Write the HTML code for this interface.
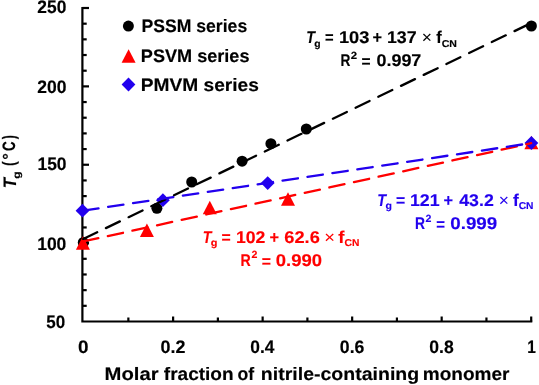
<!DOCTYPE html>
<html><head><meta charset="utf-8"><style>
html,body{margin:0;padding:0;background:#fff;width:539px;height:385px;overflow:hidden}
svg{display:block;will-change:transform;filter:blur(0.4px)}
text{font-family:"Liberation Sans",sans-serif;font-kerning:none;letter-spacing:0;text-rendering:geometricPrecision}
</style></head><body>
<svg width="539" height="385" viewBox="0 0 539 385">
<rect width="539" height="385" fill="#fff"/>
<path d="M82.4 8.0 V321.5 H531.2" stroke="#000" stroke-width="2.2" fill="none" stroke-linejoin="miter" stroke-linecap="square"/>
<line x1="82.4" y1="305.82" x2="86.70" y2="305.82" stroke="#000" stroke-width="2.2" stroke-linecap="butt"/>
<line x1="82.4" y1="290.15" x2="86.70" y2="290.15" stroke="#000" stroke-width="2.2" stroke-linecap="butt"/>
<line x1="82.4" y1="274.48" x2="86.70" y2="274.48" stroke="#000" stroke-width="2.2" stroke-linecap="butt"/>
<line x1="82.4" y1="258.80" x2="86.70" y2="258.80" stroke="#000" stroke-width="2.2" stroke-linecap="butt"/>
<line x1="82.4" y1="243.12" x2="89.00" y2="243.12" stroke="#000" stroke-width="2.2" stroke-linecap="butt"/>
<line x1="82.4" y1="227.45" x2="86.70" y2="227.45" stroke="#000" stroke-width="2.2" stroke-linecap="butt"/>
<line x1="82.4" y1="211.78" x2="86.70" y2="211.78" stroke="#000" stroke-width="2.2" stroke-linecap="butt"/>
<line x1="82.4" y1="196.10" x2="86.70" y2="196.10" stroke="#000" stroke-width="2.2" stroke-linecap="butt"/>
<line x1="82.4" y1="180.43" x2="86.70" y2="180.43" stroke="#000" stroke-width="2.2" stroke-linecap="butt"/>
<line x1="82.4" y1="164.75" x2="89.00" y2="164.75" stroke="#000" stroke-width="2.2" stroke-linecap="butt"/>
<line x1="82.4" y1="149.07" x2="86.70" y2="149.07" stroke="#000" stroke-width="2.2" stroke-linecap="butt"/>
<line x1="82.4" y1="133.40" x2="86.70" y2="133.40" stroke="#000" stroke-width="2.2" stroke-linecap="butt"/>
<line x1="82.4" y1="117.72" x2="86.70" y2="117.72" stroke="#000" stroke-width="2.2" stroke-linecap="butt"/>
<line x1="82.4" y1="102.05" x2="86.70" y2="102.05" stroke="#000" stroke-width="2.2" stroke-linecap="butt"/>
<line x1="82.4" y1="86.38" x2="89.00" y2="86.38" stroke="#000" stroke-width="2.2" stroke-linecap="butt"/>
<line x1="82.4" y1="70.70" x2="86.70" y2="70.70" stroke="#000" stroke-width="2.2" stroke-linecap="butt"/>
<line x1="82.4" y1="55.02" x2="86.70" y2="55.02" stroke="#000" stroke-width="2.2" stroke-linecap="butt"/>
<line x1="82.4" y1="39.35" x2="86.70" y2="39.35" stroke="#000" stroke-width="2.2" stroke-linecap="butt"/>
<line x1="82.4" y1="23.68" x2="86.70" y2="23.68" stroke="#000" stroke-width="2.2" stroke-linecap="butt"/>
<line x1="82.4" y1="8.00" x2="89.00" y2="8.00" stroke="#000" stroke-width="2.2" stroke-linecap="butt"/>
<line x1="128.36" y1="321.5" x2="128.36" y2="317.50" stroke="#000" stroke-width="2.2" stroke-linecap="butt"/>
<line x1="173.12" y1="321.5" x2="173.12" y2="316.50" stroke="#000" stroke-width="2.2" stroke-linecap="butt"/>
<line x1="217.88" y1="321.5" x2="217.88" y2="317.50" stroke="#000" stroke-width="2.2" stroke-linecap="butt"/>
<line x1="262.64" y1="321.5" x2="262.64" y2="316.50" stroke="#000" stroke-width="2.2" stroke-linecap="butt"/>
<line x1="307.40" y1="321.5" x2="307.40" y2="317.50" stroke="#000" stroke-width="2.2" stroke-linecap="butt"/>
<line x1="352.16" y1="321.5" x2="352.16" y2="316.50" stroke="#000" stroke-width="2.2" stroke-linecap="butt"/>
<line x1="396.92" y1="321.5" x2="396.92" y2="317.50" stroke="#000" stroke-width="2.2" stroke-linecap="butt"/>
<line x1="441.68" y1="321.5" x2="441.68" y2="316.50" stroke="#000" stroke-width="2.2" stroke-linecap="butt"/>
<line x1="486.44" y1="321.5" x2="486.44" y2="317.50" stroke="#000" stroke-width="2.2" stroke-linecap="butt"/>
<line x1="531.20" y1="321.5" x2="531.20" y2="316.50" stroke="#000" stroke-width="2.2" stroke-linecap="butt"/>
<circle cx="83.3" cy="242.5" r="5.5" fill="#000"/>
<circle cx="156.9" cy="208.3" r="5.5" fill="#000"/>
<circle cx="191.7" cy="182" r="5.5" fill="#000"/>
<circle cx="242.1" cy="161.2" r="5.5" fill="#000"/>
<circle cx="270.9" cy="143.7" r="5.5" fill="#000"/>
<circle cx="306.3" cy="129" r="5.5" fill="#000"/>
<circle cx="531.4" cy="26" r="5.5" fill="#000"/>
<path d="M75.90 249.65 L82.90 236.15 L89.90 249.65Z" fill="#ff0000" stroke="#ff0000" stroke-width="0" stroke-linejoin="round"/>
<path d="M139.90 236.95 L146.90 223.45 L153.90 236.95Z" fill="#ff0000" stroke="#ff0000" stroke-width="0" stroke-linejoin="round"/>
<path d="M202.80 214.15 L209.80 200.65 L216.80 214.15Z" fill="#ff0000" stroke="#ff0000" stroke-width="0" stroke-linejoin="round"/>
<path d="M281.00 205.85 L288.00 192.35 L295.00 205.85Z" fill="#ff0000" stroke="#ff0000" stroke-width="0" stroke-linejoin="round"/>
<path d="M524.40 149.35 L531.40 135.85 L538.40 149.35Z" fill="#ff0000" stroke="#ff0000" stroke-width="0" stroke-linejoin="round"/>
<path d="M75.60 210.70 L82.50 203.80 L89.40 210.70 L82.50 217.60Z" fill="#2200ee" stroke="#2200ee" stroke-width="0" stroke-linejoin="round"/>
<path d="M156.00 200.20 L162.90 193.30 L169.80 200.20 L162.90 207.10Z" fill="#2200ee" stroke="#2200ee" stroke-width="0" stroke-linejoin="round"/>
<path d="M260.80 183.10 L267.70 176.20 L274.60 183.10 L267.70 190.00Z" fill="#2200ee" stroke="#2200ee" stroke-width="0" stroke-linejoin="round"/>
<path d="M524.50 143.00 L531.40 136.10 L538.30 143.00 L531.40 149.90Z" fill="#2200ee" stroke="#2200ee" stroke-width="0" stroke-linejoin="round"/>
<line x1="83.2" y1="239.05" x2="531.2" y2="23.07" stroke="#000" stroke-width="2.3" stroke-dasharray="15.5 9.7" stroke-linecap="round"/>
<line x1="83.2" y1="241.48" x2="531.2" y2="143.19" stroke="#ff0000" stroke-width="2.3" stroke-dasharray="15.5 9.7" stroke-linecap="round"/>
<line x1="83.2" y1="210.61" x2="531.2" y2="143.14" stroke="#2200ee" stroke-width="2.3" stroke-dasharray="15.5 9.7" stroke-linecap="round"/>
<circle cx="128.4" cy="26.1" r="5.5" fill="#000"/>
<path d="M121.60 62.75 L128.60 49.25 L135.60 62.75Z" fill="#ff0000" stroke="#ff0000" stroke-width="0" stroke-linejoin="round"/>
<path d="M121.60 84.50 L128.50 77.60 L135.40 84.50 L128.50 91.40Z" fill="#2200ee" stroke="#2200ee" stroke-width="0" stroke-linejoin="round"/>
<text x="37.35" y="13.40" font-size="18" font-weight="bold" font-style="normal" fill="#000" stroke="#000" stroke-width="0.15" textLength="29.02" lengthAdjust="spacingAndGlyphs">250</text>
<text x="37.34" y="92.70" font-size="18" font-weight="bold" font-style="normal" fill="#000" stroke="#000" stroke-width="0.15" textLength="29.23" lengthAdjust="spacingAndGlyphs">200</text>
<text x="37.45" y="170.30" font-size="18" font-weight="bold" font-style="normal" fill="#000" stroke="#000" stroke-width="0.15" textLength="29.11" lengthAdjust="spacingAndGlyphs">150</text>
<text x="37.15" y="249.80" font-size="18" font-weight="bold" font-style="normal" fill="#000" stroke="#000" stroke-width="0.15" textLength="29.22" lengthAdjust="spacingAndGlyphs">100</text>
<text x="46.33" y="327.80" font-size="18" font-weight="bold" font-style="normal" fill="#000" stroke="#000" stroke-width="0.15" textLength="18.92" lengthAdjust="spacingAndGlyphs">50</text>
<text x="78.00" y="352.50" font-size="18" font-weight="bold" font-style="normal" fill="#000" stroke="#000" stroke-width="0.15" textLength="10.52" lengthAdjust="spacingAndGlyphs">0</text>
<text x="160.54" y="352.70" font-size="18" font-weight="bold" font-style="normal" fill="#000" stroke="#000" stroke-width="0.15" textLength="24.93" lengthAdjust="spacingAndGlyphs">0.2</text>
<text x="250.36" y="352.70" font-size="18" font-weight="bold" font-style="normal" fill="#000" stroke="#000" stroke-width="0.15" textLength="24.18" lengthAdjust="spacingAndGlyphs">0.4</text>
<text x="339.85" y="352.70" font-size="18" font-weight="bold" font-style="normal" fill="#000" stroke="#000" stroke-width="0.15" textLength="24.54" lengthAdjust="spacingAndGlyphs">0.6</text>
<text x="429.35" y="352.70" font-size="18" font-weight="bold" font-style="normal" fill="#000" stroke="#000" stroke-width="0.15" textLength="24.44" lengthAdjust="spacingAndGlyphs">0.8</text>
<text x="527.18" y="352.50" font-size="18" font-weight="bold" font-style="normal" fill="#000" stroke="#000" stroke-width="0.15" textLength="8.61" lengthAdjust="spacingAndGlyphs">1</text>
<text x="104.60" y="379.50" font-size="18" font-weight="bold" font-style="normal" fill="#000" stroke="#000" stroke-width="0.15" textLength="53.96" lengthAdjust="spacingAndGlyphs">Molar</text>
<text x="163.82" y="379.50" font-size="18" font-weight="bold" font-style="normal" fill="#000" stroke="#000" stroke-width="0.15" textLength="69.81" lengthAdjust="spacingAndGlyphs">fraction</text>
<text x="237.46" y="379.50" font-size="18" font-weight="bold" font-style="normal" fill="#000" stroke="#000" stroke-width="0.15" textLength="16.65" lengthAdjust="spacingAndGlyphs">of</text>
<text x="260.86" y="379.50" font-size="18" font-weight="bold" font-style="normal" fill="#000" stroke="#000" stroke-width="0.15" textLength="158.29" lengthAdjust="spacingAndGlyphs">nitrile-containing</text>
<text x="422.80" y="379.50" font-size="18" font-weight="bold" font-style="normal" fill="#000" stroke="#000" stroke-width="0.15" textLength="86.64" lengthAdjust="spacingAndGlyphs">monomer</text>
<text x="141.47" y="32.20" font-size="18" font-weight="bold" font-style="normal" fill="#000" stroke="#000" stroke-width="0.15" textLength="105.70" lengthAdjust="spacingAndGlyphs">PSSM series</text>
<text x="140.84" y="61.90" font-size="18" font-weight="bold" font-style="normal" fill="#000" stroke="#000" stroke-width="0.15" textLength="108.65" lengthAdjust="spacingAndGlyphs">PSVM series</text>
<text x="140.77" y="91.10" font-size="18" font-weight="bold" font-style="normal" fill="#000" stroke="#000" stroke-width="0.15" textLength="118.17" lengthAdjust="spacingAndGlyphs">PMVM series</text>
<text x="306.14" y="42.50" font-size="17" font-weight="bold" font-style="italic" fill="#000" stroke="#000" stroke-width="0.15" textLength="8.71" lengthAdjust="spacingAndGlyphs">T</text>
<text x="314.23" y="47.00" font-size="10" font-weight="bold" font-style="normal" fill="#000" stroke="#000" stroke-width="0.15" textLength="6.32" lengthAdjust="spacingAndGlyphs">g</text>
<text x="324.94" y="42.98" font-size="17" font-weight="bold" font-style="normal" fill="#000" stroke="#000" stroke-width="0.15" textLength="8.62" lengthAdjust="spacingAndGlyphs">=</text>
<text x="338.90" y="42.50" font-size="17" font-weight="bold" font-style="normal" fill="#000" stroke="#000" stroke-width="0.15" textLength="30.51" lengthAdjust="spacingAndGlyphs">103</text>
<text x="372.56" y="42.50" font-size="17" font-weight="bold" font-style="normal" fill="#000" stroke="#000" stroke-width="0.15" textLength="9.55" lengthAdjust="spacingAndGlyphs">+</text>
<text x="386.93" y="42.50" font-size="17" font-weight="bold" font-style="normal" fill="#000" stroke="#000" stroke-width="0.15" textLength="29.70" lengthAdjust="spacingAndGlyphs">137</text>
<text x="421.84" y="42.96" font-size="17" font-weight="normal" font-style="normal" fill="#000" stroke="#000" stroke-width="0" textLength="10.22" lengthAdjust="spacingAndGlyphs">×</text>
<text x="436.37" y="42.50" font-size="17" font-weight="bold" font-style="normal" fill="#000" stroke="#000" stroke-width="0.15" textLength="5.45" lengthAdjust="spacingAndGlyphs">f</text>
<text x="441.72" y="47.00" font-size="10" font-weight="bold" font-style="normal" fill="#000" stroke="#000" stroke-width="0.15" textLength="15.24" lengthAdjust="spacingAndGlyphs">CN</text>
<text x="377.33" y="205.50" font-size="17" font-weight="bold" font-style="italic" fill="#2200ee" stroke="#2200ee" stroke-width="0.15" textLength="8.81" lengthAdjust="spacingAndGlyphs">T</text>
<text x="385.42" y="209.00" font-size="10" font-weight="bold" font-style="normal" fill="#2200ee" stroke="#2200ee" stroke-width="0.15" textLength="6.44" lengthAdjust="spacingAndGlyphs">g</text>
<text x="396.10" y="205.98" font-size="17" font-weight="bold" font-style="normal" fill="#2200ee" stroke="#2200ee" stroke-width="0.15" textLength="9.20" lengthAdjust="spacingAndGlyphs">=</text>
<text x="409.93" y="205.50" font-size="17" font-weight="bold" font-style="normal" fill="#2200ee" stroke="#2200ee" stroke-width="0.15" textLength="29.72" lengthAdjust="spacingAndGlyphs">121</text>
<text x="443.56" y="205.50" font-size="17" font-weight="bold" font-style="normal" fill="#2200ee" stroke="#2200ee" stroke-width="0.15" textLength="9.55" lengthAdjust="spacingAndGlyphs">+</text>
<text x="459.28" y="205.50" font-size="17" font-weight="bold" font-style="normal" fill="#2200ee" stroke="#2200ee" stroke-width="0.15" textLength="34.48" lengthAdjust="spacingAndGlyphs">43.2</text>
<text x="498.84" y="205.96" font-size="17" font-weight="normal" font-style="normal" fill="#2200ee" stroke="#2200ee" stroke-width="0" textLength="10.22" lengthAdjust="spacingAndGlyphs">×</text>
<text x="513.05" y="205.50" font-size="17" font-weight="bold" font-style="normal" fill="#2200ee" stroke="#2200ee" stroke-width="0.15" textLength="5.76" lengthAdjust="spacingAndGlyphs">f</text>
<text x="518.73" y="209.00" font-size="10" font-weight="bold" font-style="normal" fill="#2200ee" stroke="#2200ee" stroke-width="0.15" textLength="14.81" lengthAdjust="spacingAndGlyphs">CN</text>
<text x="202.84" y="242.50" font-size="17" font-weight="bold" font-style="italic" fill="#ff0000" stroke="#ff0000" stroke-width="0.15" textLength="8.71" lengthAdjust="spacingAndGlyphs">T</text>
<text x="210.80" y="246.00" font-size="10" font-weight="bold" font-style="normal" fill="#ff0000" stroke="#ff0000" stroke-width="0.15" textLength="6.68" lengthAdjust="spacingAndGlyphs">g</text>
<text x="221.50" y="242.98" font-size="17" font-weight="bold" font-style="normal" fill="#ff0000" stroke="#ff0000" stroke-width="0.15" textLength="9.20" lengthAdjust="spacingAndGlyphs">=</text>
<text x="235.94" y="242.50" font-size="17" font-weight="bold" font-style="normal" fill="#ff0000" stroke="#ff0000" stroke-width="0.15" textLength="29.42" lengthAdjust="spacingAndGlyphs">102</text>
<text x="269.56" y="242.50" font-size="17" font-weight="bold" font-style="normal" fill="#ff0000" stroke="#ff0000" stroke-width="0.15" textLength="9.55" lengthAdjust="spacingAndGlyphs">+</text>
<text x="284.38" y="242.50" font-size="17" font-weight="bold" font-style="normal" fill="#ff0000" stroke="#ff0000" stroke-width="0.15" textLength="35.42" lengthAdjust="spacingAndGlyphs">62.6</text>
<text x="324.17" y="242.96" font-size="17" font-weight="normal" font-style="normal" fill="#ff0000" stroke="#ff0000" stroke-width="0" textLength="10.74" lengthAdjust="spacingAndGlyphs">×</text>
<text x="338.33" y="242.50" font-size="17" font-weight="bold" font-style="normal" fill="#ff0000" stroke="#ff0000" stroke-width="0.15" textLength="6.18" lengthAdjust="spacingAndGlyphs">f</text>
<text x="344.53" y="246.00" font-size="10" font-weight="bold" font-style="normal" fill="#ff0000" stroke="#ff0000" stroke-width="0.15" textLength="14.81" lengthAdjust="spacingAndGlyphs">CN</text>
<text x="340.53" y="66.00" font-size="17" font-weight="bold" font-style="normal" fill="#000" stroke="#000" stroke-width="0.15" textLength="9.90" lengthAdjust="spacingAndGlyphs">R</text>
<text x="350.85" y="59.00" font-size="10.5" font-weight="bold" font-style="normal" fill="#000" stroke="#000" stroke-width="0.15" textLength="6.35" lengthAdjust="spacingAndGlyphs">2</text>
<text x="361.50" y="66.53" font-size="17" font-weight="bold" font-style="normal" fill="#000" stroke="#000" stroke-width="0.15" textLength="9.08" lengthAdjust="spacingAndGlyphs">=</text>
<text x="376.44" y="66.00" font-size="17" font-weight="bold" font-style="normal" fill="#000" stroke="#000" stroke-width="0.15" textLength="44.90" lengthAdjust="spacingAndGlyphs">0.997</text>
<text x="414.92" y="229.00" font-size="17" font-weight="bold" font-style="normal" fill="#2200ee" stroke="#2200ee" stroke-width="0.15" textLength="10.01" lengthAdjust="spacingAndGlyphs">R</text>
<text x="425.58" y="222.00" font-size="10.5" font-weight="bold" font-style="normal" fill="#2200ee" stroke="#2200ee" stroke-width="0.15" textLength="5.89" lengthAdjust="spacingAndGlyphs">2</text>
<text x="436.23" y="229.53" font-size="17" font-weight="bold" font-style="normal" fill="#2200ee" stroke="#2200ee" stroke-width="0.15" textLength="8.73" lengthAdjust="spacingAndGlyphs">=</text>
<text x="450.31" y="229.00" font-size="17" font-weight="bold" font-style="normal" fill="#2200ee" stroke="#2200ee" stroke-width="0.15" textLength="46.94" lengthAdjust="spacingAndGlyphs">0.999</text>
<text x="240.50" y="266.00" font-size="17" font-weight="bold" font-style="normal" fill="#ff0000" stroke="#ff0000" stroke-width="0.15" textLength="10.24" lengthAdjust="spacingAndGlyphs">R</text>
<text x="251.58" y="258.00" font-size="10.5" font-weight="bold" font-style="normal" fill="#ff0000" stroke="#ff0000" stroke-width="0.15" textLength="5.89" lengthAdjust="spacingAndGlyphs">2</text>
<text x="261.80" y="266.53" font-size="17" font-weight="bold" font-style="normal" fill="#ff0000" stroke="#ff0000" stroke-width="0.15" textLength="9.20" lengthAdjust="spacingAndGlyphs">=</text>
<text x="275.82" y="266.00" font-size="17" font-weight="bold" font-style="normal" fill="#ff0000" stroke="#ff0000" stroke-width="0.15" textLength="46.29" lengthAdjust="spacingAndGlyphs">0.990</text>
<g transform="rotate(-90)"><text x="-188.13" y="15.80" font-size="18" font-weight="bold" font-style="italic" fill="#000" stroke="#000" stroke-width="0.15" textLength="10.21" lengthAdjust="spacingAndGlyphs">T</text><text x="-178.75" y="19.90" font-size="10" font-weight="bold" font-style="normal" fill="#000" stroke="#000" stroke-width="0.15" textLength="7.41" lengthAdjust="spacingAndGlyphs">g</text><text x="-165.94" y="15.40" font-size="18" font-weight="bold" font-style="normal" fill="#000" stroke="#000" stroke-width="0.15" textLength="4.60" lengthAdjust="spacingAndGlyphs">(</text><text x="-159.77" y="13.60" font-size="16" font-weight="bold" font-style="normal" fill="#000" stroke="#000" stroke-width="0.15" textLength="6.52" lengthAdjust="spacingAndGlyphs">°</text><text x="-150.90" y="15.40" font-size="18" font-weight="bold" font-style="normal" fill="#000" stroke="#000" stroke-width="0.15" textLength="9.61" lengthAdjust="spacingAndGlyphs">C</text><text x="-139.16" y="15.40" font-size="18" font-weight="bold" font-style="normal" fill="#000" stroke="#000" stroke-width="0.15" textLength="4.13" lengthAdjust="spacingAndGlyphs">)</text></g>
</svg>
</body></html>
